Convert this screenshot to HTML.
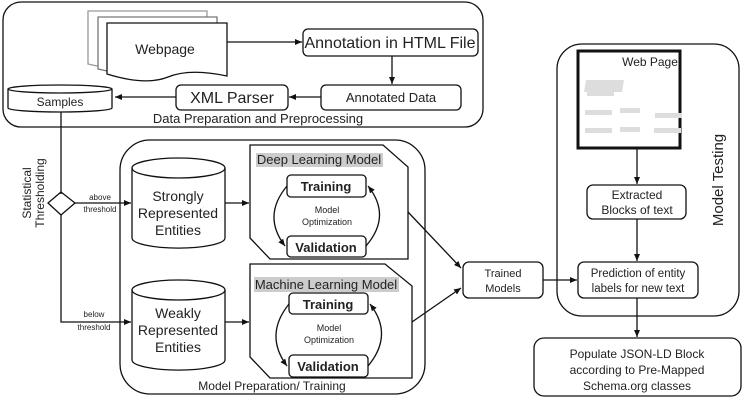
<!DOCTYPE html>
<html><head><meta charset="utf-8"><style>body{margin:0;background:#fff}svg{display:block}text{font-family:"Liberation Sans",sans-serif;fill:#222}</style></head><body>
<svg width="743" height="403" viewBox="0 0 743 403" xmlns="http://www.w3.org/2000/svg">
<defs><marker id="a" markerWidth="8" markerHeight="8" refX="7" refY="4" orient="auto" markerUnits="userSpaceOnUse"><path d="M0,1 L7,4 L0,7z" fill="#111"/></marker></defs>
<g fill="none" stroke="#111" stroke-width="1.3">
<rect x="3" y="2" width="480" height="125" rx="18"/>
<path d="M88,11 H207 V65 Q170,58 150,66 T88,64 Z" fill="#fff" stroke="#999"/>
<path d="M98,17 H217 V70 Q180,63 160,71 T98,69 Z" fill="#fff" stroke="#777"/>
<path d="M107,23 H227 V76 Q190,68 168,77 T107,74 Z" fill="#fff"/>
<rect x="303" y="29" width="175" height="27" rx="5"/>
<rect x="321" y="85" width="140" height="25" rx="5"/>
<rect x="176" y="85" width="112" height="25" rx="5"/>
<path d="M8,89 V108 A52,4 0 0 0 112,108 V89"/><ellipse cx="60" cy="89" rx="52" ry="4"/>
<line x1="227" y1="42" x2="302" y2="42" marker-end="url(#a)"/>
<line x1="392" y1="56" x2="392" y2="84" marker-end="url(#a)"/>
<line x1="321" y1="97" x2="289" y2="97" marker-end="url(#a)"/>
<line x1="176" y1="97" x2="115" y2="97" marker-end="url(#a)"/>
<polyline points="61,112 61,194"/>
<path d="M61,192 L75,203 L61,215 L48,203Z"/>
<line x1="75" y1="203" x2="131" y2="203" marker-end="url(#a)"/>
<polyline points="61,215 61,322 131,322" marker-end="url(#a)"/>
<rect x="120" y="140" width="305" height="254" rx="30"/>
<path d="M132,168 V238 A46,10 0 0 0 225,238 V168"/><ellipse cx="178.5" cy="168" rx="46.5" ry="10"/>
<path d="M132,290 V360 A46,10 0 0 0 225,360 V290"/><ellipse cx="178.5" cy="290" rx="46.5" ry="10"/>
<line x1="225" y1="203" x2="249" y2="203" marker-end="url(#a)"/>
<line x1="225" y1="322" x2="249" y2="322" marker-end="url(#a)"/>
<path d="M250,145 H383 L408,167 V259 H270 L250,238Z"/>
<path d="M250,264 H385 L412,286 V378 H270 L250,357Z"/>
<rect x="287" y="175" width="79" height="22" rx="4"/>
<rect x="287" y="236" width="79" height="21" rx="4"/>
<rect x="289" y="293" width="79" height="21" rx="4"/>
<rect x="289" y="355" width="79" height="22" rx="4"/>
<path d="M287,186 Q262,216 285,246" marker-end="url(#a)"/>
<path d="M366,246 Q392,216 368,186" marker-end="url(#a)"/>
<path d="M289,304 Q264,335 287,366" marker-end="url(#a)"/>
<path d="M368,366 Q394,335 370,304" marker-end="url(#a)"/>
<line x1="408" y1="212" x2="461" y2="268" marker-end="url(#a)"/>
<line x1="412" y1="322" x2="461" y2="288" marker-end="url(#a)"/>
<rect x="463" y="262" width="80" height="36" rx="6"/>
<line x1="543" y1="280" x2="577" y2="280" marker-end="url(#a)"/>
<rect x="557" y="44" width="182" height="272" rx="25"/>
<rect x="578" y="51" width="102" height="97" stroke-width="3"/>
<rect x="587" y="185" width="99" height="34" rx="6"/>
<rect x="578" y="262" width="120" height="36" rx="6"/>
<rect x="534" y="338" width="207" height="58" rx="10"/>
<line x1="637" y1="149" x2="637" y2="184" marker-end="url(#a)"/>
<line x1="637" y1="219" x2="637" y2="261" marker-end="url(#a)"/>
<line x1="637" y1="298" x2="637" y2="337" marker-end="url(#a)"/>
</g>
<rect x="256" y="153" width="127" height="14" fill="#ccc"/>
<rect x="254" y="277" width="145" height="15" fill="#ccc"/>
<g fill="#ddd"><path d="M586,80 L624,80 L622,92 L584,92Z"/><rect x="587" y="91" width="27" height="5"/><rect x="585" y="110" width="27" height="5"/><rect x="620" y="108" width="20" height="5"/><rect x="655" y="113" width="27" height="5"/><rect x="585" y="128" width="27" height="5"/><rect x="620" y="127" width="20" height="5"/><rect x="654" y="128" width="27" height="5"/></g>
<g text-anchor="middle">
<text x="165" y="54" font-size="14">Webpage</text>
<text x="390" y="48" font-size="16">Annotation in HTML File</text>
<text x="391" y="102" font-size="13">Annotated Data</text>
<text x="232" y="103" font-size="16">XML Parser</text>
<text x="60" y="106" font-size="12">Samples</text>
<text x="258" y="123" font-size="13">Data Preparation and  Preprocessing</text>
<text x="100" y="200" font-size="8">above</text><text x="100" y="212" font-size="8">threshold</text>
<text x="94" y="317" font-size="8">below</text><text x="94" y="330" font-size="8">threshold</text>
<text transform="translate(31,193) rotate(-90)" font-size="12">Statistical</text>
<text transform="translate(44,193) rotate(-90)" font-size="12">Thresholding</text>
<text x="178" y="201" font-size="14">Strongly</text><text x="178" y="218" font-size="14">Represented</text><text x="178" y="235" font-size="14">Entities</text>
<text x="178" y="318" font-size="14">Weakly</text><text x="178" y="335" font-size="14">Represented</text><text x="178" y="352" font-size="14">Entities</text>
<text x="319" y="164" font-size="13">Deep Learning Model</text>
<text x="326" y="289" font-size="13">Machine Learning Model</text>
<text x="326" y="191" font-size="13" font-weight="bold">Training</text>
<text x="326" y="252" font-size="13" font-weight="bold">Validation</text>
<text x="328" y="309" font-size="13" font-weight="bold">Training</text>
<text x="328" y="371" font-size="13" font-weight="bold">Validation</text>
<text x="327" y="213" font-size="9">Model</text><text x="327" y="225" font-size="9">Optimization</text>
<text x="329" y="331" font-size="9">Model</text><text x="329" y="343" font-size="9">Optimization</text>
<text x="272" y="390" font-size="12">Model Preparation/ Training</text>
<text x="503" y="277" font-size="11">Trained</text><text x="503" y="292" font-size="11">Models</text>
<text x="650" y="66" font-size="12">Web Page</text>
<text x="637" y="199" font-size="12">Extracted</text><text x="637" y="214" font-size="12">Blocks of text</text>
<text x="638" y="277" font-size="11.5">Prediction  of  entity</text><text x="638" y="292" font-size="11.5">labels for new text</text>
<text x="637" y="358" font-size="12">Populate JSON-LD Block</text><text x="637" y="374" font-size="12">according to Pre-Mapped</text><text x="637" y="390" font-size="12">Schema.org classes</text>
<text transform="translate(723,180) rotate(-90)" font-size="15">Model Testing</text>
</g>
</svg>
</body></html>
